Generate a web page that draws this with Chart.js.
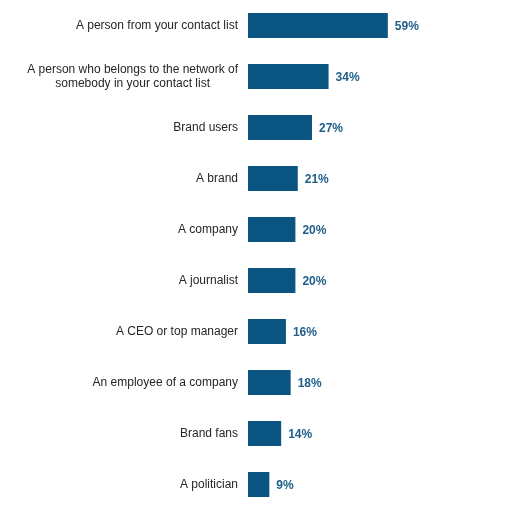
<!DOCTYPE html>
<html>
<head>
<meta charset="utf-8">
<script src="https://cdn.jsdelivr.net/npm/chart.js@4"></script>
<style>
  html, body { margin: 0; padding: 0; background: #fff; }
  .wrap { width: 531px; height: 514px; position: relative; }
</style>
</head>
<body>
<div class="wrap"><canvas class="bar-chart"></canvas></div>
<script>
const categories = [
    'A person from your contact list',
    ['A person who belongs to the network of', 'somebody in your contact list'],
    'Brand users',
    'A brand',
    'A company',
    'A journalist',
    'A CEO or top manager',
    'An employee of a company',
    'Brand fans',
    'A politician'
];
const shares = [59, 34, 27, 21, 20, 20, 16, 18, 14, 9];

const ctx = document.querySelector('.bar-chart');

// category labels: text box right aligned, lines centred inside the box
const labelPlugin = {
    id: 'labels',
    afterDraw(chart) {
        const c = chart.ctx;
        const y = chart.scales.y;
        c.save();
        c.font = '12px "Liberation Sans", Arial, sans-serif';
        c.fillStyle = '#262626';
        c.textBaseline = 'middle';
        c.textAlign = 'center';
        categories.forEach((lab, i) => {
            const lines = Array.isArray(lab) ? lab : [lab];
            const w = Math.max(...lines.map(l => c.measureText(l).width));
            const right = y.right - 10;
            const cx = right - w / 2;
            const cy = y.getPixelForValue(i);
            const lh = 14;
            lines.forEach((l, j) => {
                c.fillText(l, cx, cy + (j - (lines.length - 1) / 2) * lh);
            });
        });
        // value labels at bar ends
        c.font = 'bold 12px "Liberation Sans", Arial, sans-serif';
        c.fillStyle = '#1f5e8a';
        c.textAlign = 'left';
        chart.getDatasetMeta(0).data.forEach((bar, i) => {
            c.fillText(shares[i] + '%', bar.x + 7, bar.y + 1);
        });
        c.restore();
    }
};

new Chart(ctx, {
    type: 'bar',
    data: {
        labels: categories,
        datasets: [{
            data: shares,
            backgroundColor: '#0b5582',
            borderWidth: 0,
            barPercentage: 0.49,
            categoryPercentage: 1
        }]
    },
    options: {
        indexAxis: 'y',
        responsive: true,
        maintainAspectRatio: false,
        animation: false,
        layout: {
            padding: { top: 0, bottom: 4, right: 46, left: 0 }
        },
        scales: {
            x: {
                min: 0,
                max: 100,
                display: false
            },
            y: {
                grid: { display: false },
                border: { display: false },
                ticks: { display: false },
                afterFit(scale) { scale.width = 248; }
            }
        },
        plugins: {
            legend: { display: false },
            tooltip: { enabled: false }
        }
    },
    plugins: [labelPlugin]
});
</script>
</body>
</html>
